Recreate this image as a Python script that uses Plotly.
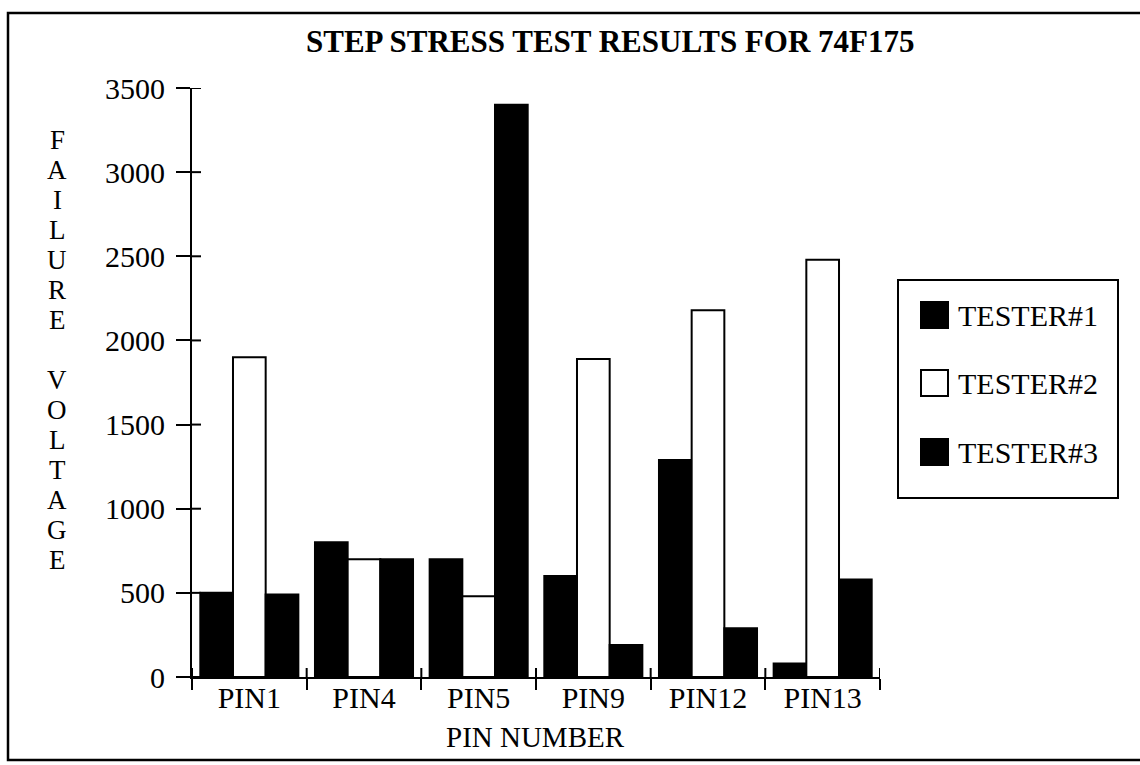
import plotly.graph_objects as go

categories = ["PIN1", "PIN4", "PIN5", "PIN9", "PIN12", "PIN13"]
tester1 = [500, 800, 700, 600, 1290, 80]
tester2 = [1900, 700, 480, 1890, 2180, 2480]
tester3 = [490, 700, 3400, 190, 290, 580]
series_names = ["TESTER#1", "TESTER#2", "TESTER#3"]
series_fill = ["black", "white", "black"]
y_ticks = [0, 500, 1000, 1500, 2000, 2500, 3000, 3500]
title_text = "STEP STRESS TEST RESULTS FOR 74F175"
y_title = "FAILURE VOLTAGE"
x_title = "PIN NUMBER"

W, H = 1140, 765
L, R, T, B = 192, 880, 88, 677  # plot area in pixels
FONT = "Liberation Serif, Times New Roman, serif"


def px(xp):
    return (xp - L) / (R - L)


def py(yp):
    return (B - yp) / (B - T)


fig = go.Figure()
for name, vals, fill in zip(series_names, [tester1, tester2, tester3], series_fill):
    fig.add_trace(go.Bar(
        x=categories, y=vals, name=name,
        marker=dict(color=fill, line=dict(color="black", width=2)),
        showlegend=False,
    ))

shapes = []
annotations = []

# outer frame
shapes.append(dict(type="rect", xref="paper", yref="paper",
                   x0=px(8), x1=px(1150), y0=py(760), y1=py(13),
                   line=dict(color="black", width=2.5), layer="below"))

# inner halves of the crossing tick marks (axis decoration, placed on the axes' own scales)
for v in y_ticks:
    shapes.append(dict(type="line", xref="paper", yref="y", x0=0, x1=px(L + 9),
                       y0=v, y1=v, line=dict(color="black", width=2)))
for b in [i - 0.5 for i in range(len(categories) + 1)]:
    shapes.append(dict(type="line", xref="x", yref="paper", x0=b, x1=b,
                       y0=0, y1=py(B - 9), line=dict(color="black", width=2)))

# custom legend
shapes.append(dict(type="rect", xref="paper", yref="paper",
                   x0=px(898), x1=px(1118), y0=py(498), y1=py(280),
                   line=dict(color="black", width=2)))
leg_y = [315, 383, 452]
for name, fill, yc in zip(series_names, series_fill, leg_y):
    shapes.append(dict(type="rect", xref="paper", yref="paper",
                       x0=px(921), x1=px(948), y0=py(yc + 13), y1=py(yc - 13),
                       fillcolor=fill, line=dict(color="black", width=2)))
    annotations.append(dict(xref="paper", yref="paper", x=px(956), y=py(yc),
                            xanchor="left", yanchor="middle", showarrow=False,
                            text=name, font=dict(family=FONT, size=30, color="black")))

# stacked y-axis title
for i, ch in enumerate(y_title):
    if ch == " ":
        continue
    annotations.append(dict(xref="paper", yref="paper", x=px(57), y=py(140 + 30 * i),
                            xanchor="center", yanchor="middle", showarrow=False,
                            text=ch, font=dict(family=FONT, size=27, color="black")))

# title
annotations.append(dict(xref="paper", yref="paper", x=px(610), y=py(42),
                        xanchor="center", yanchor="middle", showarrow=False,
                        text="<b>" + title_text + "</b>",
                        font=dict(family=FONT, size=31, color="black")))

# x title
annotations.append(dict(xref="paper", yref="paper", x=px(535), y=py(737),
                        xanchor="center", yanchor="middle", showarrow=False,
                        text=x_title, font=dict(family=FONT, size=29, color="black")))

fig.update_layout(
    width=W, height=H,
    margin=dict(l=L, r=W - R, t=T, b=H - B),
    paper_bgcolor="white", plot_bgcolor="white",
    barmode="group", bargap=0.145, bargroupgap=0,
    font=dict(family=FONT, size=29, color="black"),
    shapes=shapes, annotations=annotations,
    xaxis=dict(type="category", categoryorder="array", categoryarray=categories,
               showline=True, linecolor="black", linewidth=2,
               ticks="outside", ticklen=11, tickwidth=2, tickcolor="black",
               tickson="boundaries", showgrid=False, zeroline=False,
               ticklabelstandoff=-7,
               tickfont=dict(family=FONT, size=30, color="black"),
               range=[-0.5, len(categories) - 0.5]),
    yaxis=dict(range=[0, 3500], tickvals=y_ticks,
               showline=True, linecolor="black", linewidth=2,
               ticks="outside", ticklen=14, tickwidth=2, tickcolor="black",
               showgrid=False, zeroline=False, ticklabelstandoff=5,
               tickfont=dict(family=FONT, size=30, color="black")),
)

fig.write_html("out.html")
